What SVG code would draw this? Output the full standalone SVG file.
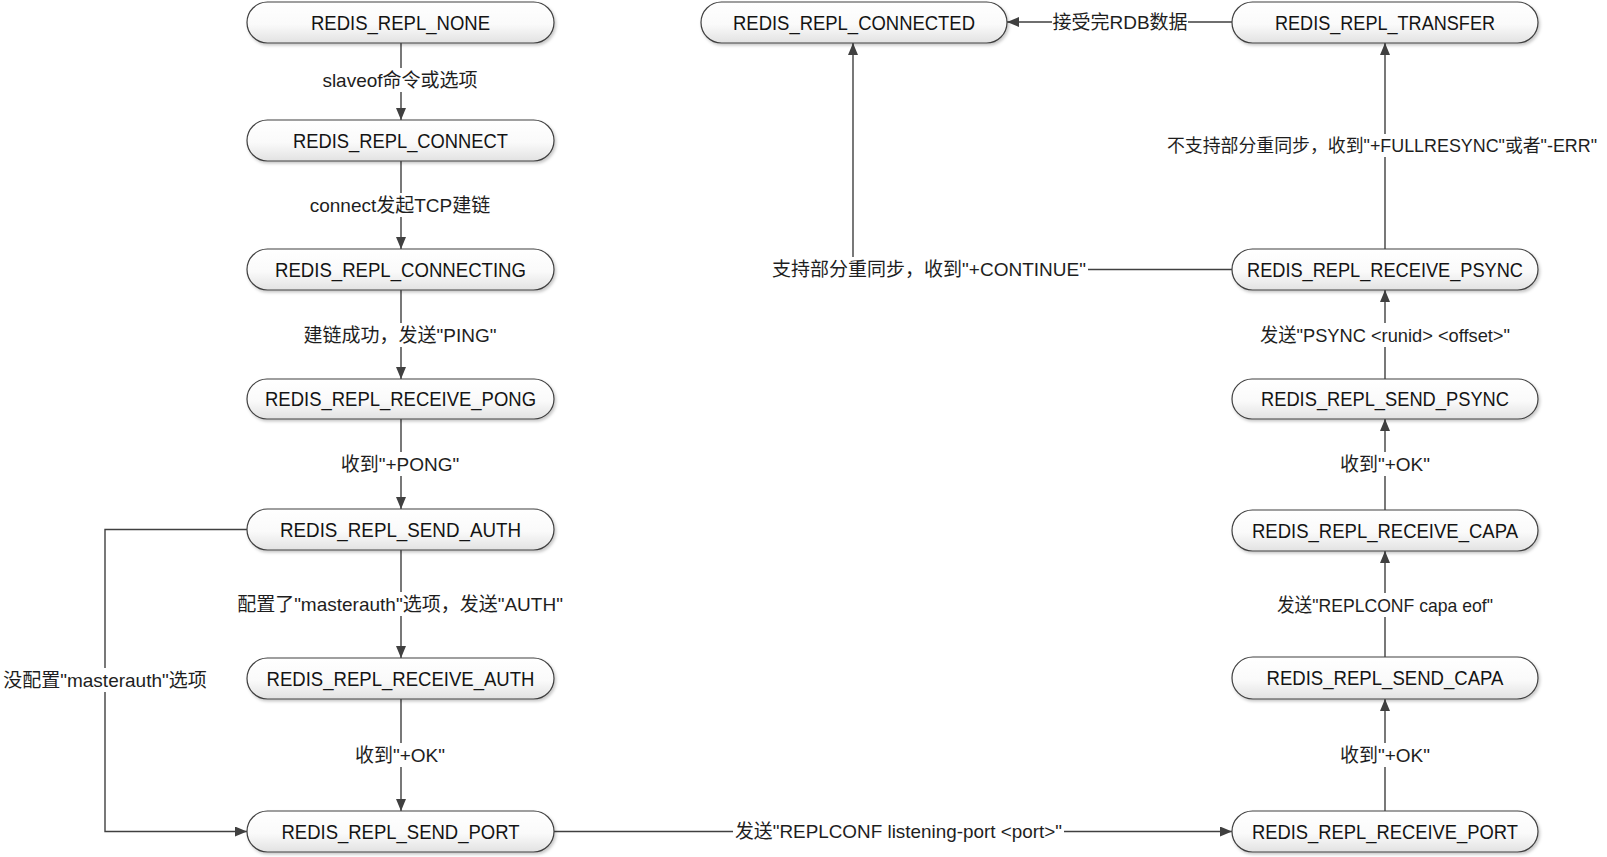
<svg xmlns="http://www.w3.org/2000/svg" width="1607" height="857" viewBox="0 0 1607 857">
<defs>
<linearGradient id="nodeFill" x1="0" y1="0" x2="0" y2="1">
<stop offset="0" stop-color="#ffffff"/>
<stop offset="0.55" stop-color="#fafafa"/>
<stop offset="1" stop-color="#e2e2e2"/>
</linearGradient>
<filter id="shadow" x="-5%" y="-20%" width="110%" height="150%">
<feDropShadow dx="1.5" dy="2" stdDeviation="1.5" flood-color="#000" flood-opacity="0.22"/>
</filter>
<marker id="arrow" markerUnits="userSpaceOnUse" markerWidth="12" markerHeight="10" refX="12" refY="5" orient="auto">
<path d="M0,0 L12,5 L0,10 z" fill="#404040"/>
</marker>
<style>
.node rect { fill: url(#nodeFill); stroke: #404040; stroke-width: 1.2; filter: url(#shadow); }
.node text { font-family: "Liberation Sans", "Noto Sans CJK SC", sans-serif; font-size: 20.5px; fill: #141414; text-anchor: middle; dominant-baseline: central; }
.edge { fill: none; stroke: #404040; stroke-width: 1.4; marker-end: url(#arrow); }
.lbl { font-family: "Liberation Sans", "Noto Sans CJK SC", sans-serif; font-size: 19px; fill: #1e1e1e; text-anchor: middle; dominant-baseline: central; }
</style>
</defs>
<rect width="1607" height="857" fill="#ffffff"/>

<g id="connectors">
<path class="edge" d="M401 43 V68 M401 92 V120"/>
<path class="edge" d="M401 161 V193 M401 217 V249"/>
<path class="edge" d="M401 290 V323 M401 347 V379"/>
<path class="edge" d="M401 419 V452 M401 476 V509"/>
<path class="edge" d="M401 550 V592 M401 616 V658"/>
<path class="edge" d="M401 699 V743 M401 767 V811"/>
<path class="edge" d="M247 529.5 H105 V668 M105 692 V831.5 H247"/>
<path class="edge" d="M554 831.5 H733 M1064 831.5 H1232"/>
<path class="edge" d="M1385 811 V767 M1385 743 V699"/>
<path class="edge" d="M1385 657 V617 M1385 593 V551"/>
<path class="edge" d="M1385 510 V476 M1385 452 V419"/>
<path class="edge" d="M1385 379 V347 M1385 323 V290"/>
<path class="edge" d="M1385 249 V157 M1385 134 V43"/>
<path class="edge" d="M1232 269.5 H1088 M853 257 V43"/>
<path class="edge" d="M1232 22 H1188 M1052 22 H1007"/>

<text class="lbl" x="400" y="80">slaveof命令或选项</text>
<text class="lbl" x="400" y="205">connect发起TCP建链</text>
<text class="lbl" x="400" y="335">建链成功，发送"PING"</text>
<text class="lbl" x="400" y="464">收到"+PONG"</text>
<text class="lbl" x="400" y="604">配置了"masterauth"选项，发送"AUTH"</text>
<text class="lbl" x="400" y="755">收到"+OK"</text>
<text class="lbl" x="105" y="680">没配置"masterauth"选项</text>
<text class="lbl" x="898.5" y="831.5" textLength="327" lengthAdjust="spacingAndGlyphs">发送"REPLCONF listening-port &lt;port&gt;"</text>
<text class="lbl" x="1385" y="755">收到"+OK"</text>
<text class="lbl" x="1385" y="605" textLength="216" lengthAdjust="spacingAndGlyphs">发送"REPLCONF capa eof"</text>
<text class="lbl" x="1385" y="464">收到"+OK"</text>
<text class="lbl" x="1385" y="335" textLength="250" lengthAdjust="spacingAndGlyphs">发送"PSYNC &lt;runid&gt; &lt;offset&gt;"</text>
<text class="lbl" x="929" y="269.5">支持部分重同步，收到"+CONTINUE"</text>
<text class="lbl" x="1382" y="145.5" style="font-size:18px" textLength="430" lengthAdjust="spacingAndGlyphs">不支持部分重同步，收到"+FULLRESYNC"或者"-ERR"</text>
<text class="lbl" x="1120" y="22">接受完RDB数据</text>
</g>

<g id="n_none" class="node"><rect x="247" y="2" width="307" height="41" rx="20.5"/><text x="400.5" y="22" textLength="179" lengthAdjust="spacingAndGlyphs">REDIS_REPL_NONE</text></g>
<g id="n_connect" class="node"><rect x="247" y="120" width="307" height="41" rx="20.5"/><text x="400.5" y="140" textLength="215" lengthAdjust="spacingAndGlyphs">REDIS_REPL_CONNECT</text></g>
<g id="n_connecting" class="node"><rect x="247" y="249" width="307" height="41" rx="20.5"/><text x="400.5" y="269" textLength="251" lengthAdjust="spacingAndGlyphs">REDIS_REPL_CONNECTING</text></g>
<g id="n_receive_pong" class="node"><rect x="247" y="379" width="307" height="40" rx="20"/><text x="400.5" y="398.5" textLength="271" lengthAdjust="spacingAndGlyphs">REDIS_REPL_RECEIVE_PONG</text></g>
<g id="n_send_auth" class="node"><rect x="247" y="509" width="307" height="41" rx="20.5"/><text x="400.5" y="529" textLength="241" lengthAdjust="spacingAndGlyphs">REDIS_REPL_SEND_AUTH</text></g>
<g id="n_receive_auth" class="node"><rect x="247" y="658" width="307" height="41" rx="20.5"/><text x="400.5" y="678" textLength="268" lengthAdjust="spacingAndGlyphs">REDIS_REPL_RECEIVE_AUTH</text></g>
<g id="n_send_port" class="node"><rect x="247" y="811" width="307" height="41" rx="20.5"/><text x="400.5" y="831" textLength="238" lengthAdjust="spacingAndGlyphs">REDIS_REPL_SEND_PORT</text></g>

<g id="n_connected" class="node"><rect x="701" y="2" width="306" height="41" rx="20.5"/><text x="854" y="22" textLength="242" lengthAdjust="spacingAndGlyphs">REDIS_REPL_CONNECTED</text></g>

<g id="n_transfer" class="node"><rect x="1232" y="2" width="306" height="41" rx="20.5"/><text x="1385" y="22" textLength="220" lengthAdjust="spacingAndGlyphs">REDIS_REPL_TRANSFER</text></g>
<g id="n_receive_psync" class="node"><rect x="1232" y="249" width="306" height="41" rx="20.5"/><text x="1385" y="269" textLength="276" lengthAdjust="spacingAndGlyphs">REDIS_REPL_RECEIVE_PSYNC</text></g>
<g id="n_send_psync" class="node"><rect x="1232" y="379" width="306" height="40" rx="20"/><text x="1385" y="398.5" textLength="248" lengthAdjust="spacingAndGlyphs">REDIS_REPL_SEND_PSYNC</text></g>
<g id="n_receive_capa" class="node"><rect x="1232" y="510" width="306" height="41" rx="20.5"/><text x="1385" y="530" textLength="266" lengthAdjust="spacingAndGlyphs">REDIS_REPL_RECEIVE_CAPA</text></g>
<g id="n_send_capa" class="node"><rect x="1232" y="657" width="306" height="42" rx="21"/><text x="1385" y="677.5" textLength="237" lengthAdjust="spacingAndGlyphs">REDIS_REPL_SEND_CAPA</text></g>
<g id="n_receive_port" class="node"><rect x="1232" y="811" width="306" height="41" rx="20.5"/><text x="1385" y="831" textLength="266" lengthAdjust="spacingAndGlyphs">REDIS_REPL_RECEIVE_PORT</text></g>
</svg>
